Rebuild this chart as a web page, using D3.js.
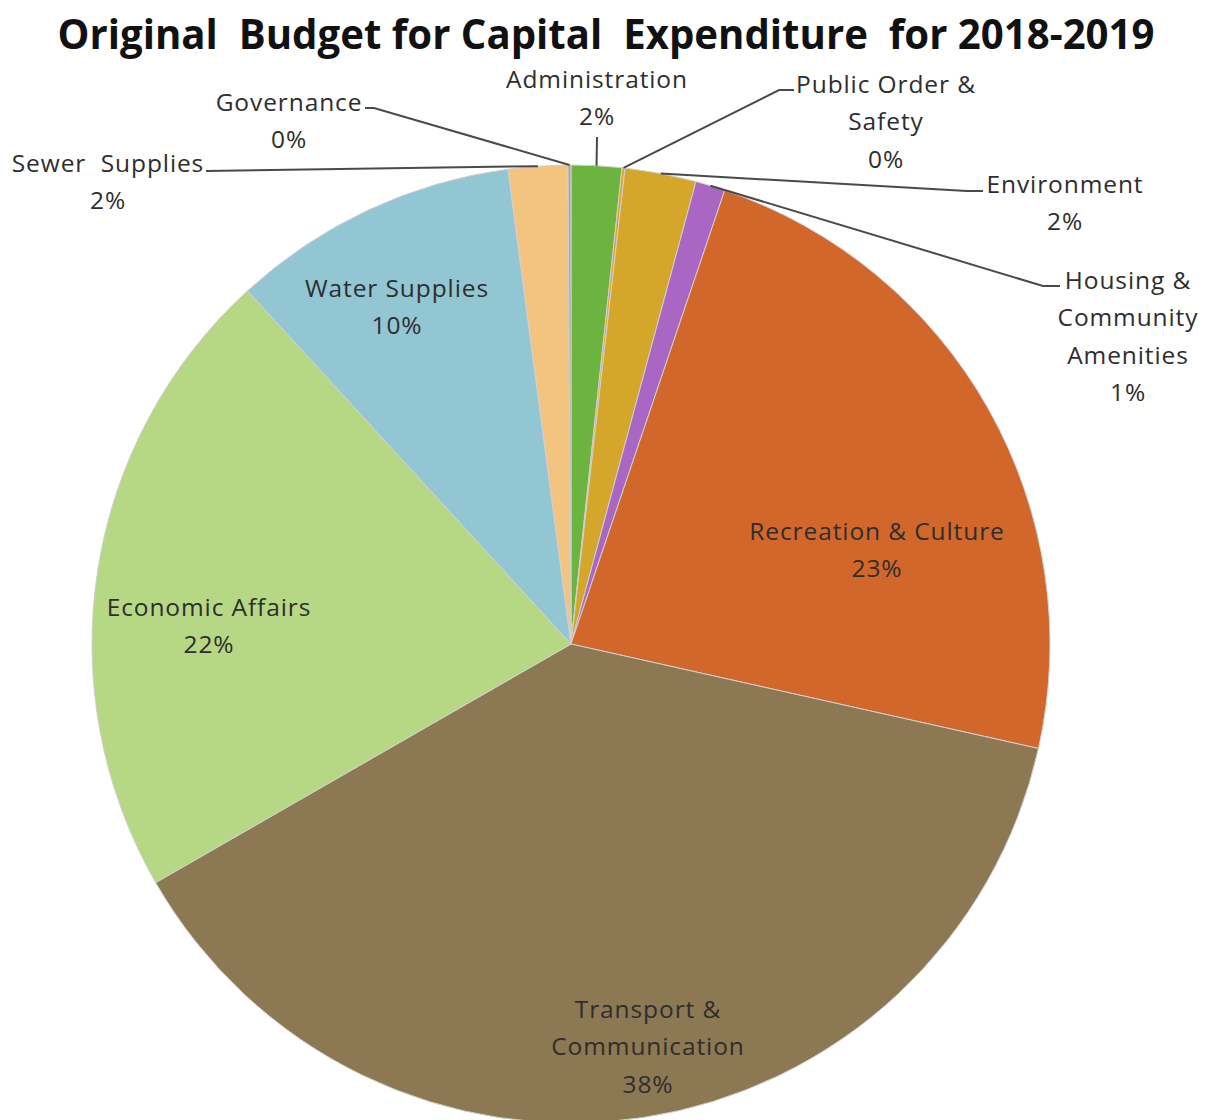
<!DOCTYPE html>
<html>
<head>
<meta charset="utf-8">
<script src="https://cdn.jsdelivr.net/npm/d3@7"></script>
<style>
  html, body { margin: 0; padding: 0; background: #ffffff; }
  svg { display: block; }
  text { font-family: "Open Sans", "Noto Sans", sans-serif; }
</style>
</head>
<body>
<svg id="chart" width="1208" height="1120"></svg>
<script>
// Budget categories, clockwise from 12 o'clock
const categories = [
  "Administration",
  "Public Order & Safety",
  "Environment",
  "Housing & Community Amenities",
  "Recreation & Culture",
  "Transport & Communication",
  "Economic Affairs",
  "Water Supplies",
  "Sewer Supplies",
  "Governance"
];

// Share of the capital budget (%)
const shares = [1.7, 0.1, 2.4, 1.0, 23.3, 38.2, 21.5, 9.7, 2.0, 0.1];

// Slice fills
const colors = [
  "#6db33f", "#e0a530", "#d4a62a", "#a966c2", "#d2672c",
  "#8c7852", "#b6d884", "#93c6d3", "#f3c47f", "#a7a7a7"
];

// Label text broken into lines (percentage line is appended)
const labelLines = [
  ["Administration"],
  ["Public Order &", "Safety"],
  ["Environment"],
  ["Housing &", "Community", "Amenities"],
  ["Recreation & Culture"],
  ["Transport &", "Communication"],
  ["Economic Affairs"],
  ["Water Supplies"],
  ["Sewer  Supplies"],
  ["Governance"]
];

const title = "Original  Budget for Capital  Expenditure  for 2018-2019";

// ---- layout ----
const W = 1208, H = 1120;
const cx = 571, cy = 644, R = 479;
const lineGap = 37.5;

// label block positions (centre x, centre y of first line)
const labelPos = {
  "Administration": [597, 78],
  "Public Order & Safety": [886, 83],
  "Environment": [1065, 183],
  "Housing & Community Amenities": [1128, 279],
  "Recreation & Culture": [877, 530],
  "Transport & Communication": [648, 1008],
  "Economic Affairs": [209, 606],
  "Water Supplies": [397, 287],
  "Sewer Supplies": [108, 162],
  "Governance": [289, 101]
};

// leader-line start points near each outside label (start, then elbow)
const leaderStart = {
  "Administration": [[597, 137]],
  "Public Order & Safety": [[794, 90], [779, 90]],
  "Environment": [[983, 191], [967, 191]],
  "Housing & Community Amenities": [[1060, 286], [1043, 286]],
  "Sewer Supplies": [[206, 171]],
  "Governance": [[365, 108], [374, 108]]
};

const svg = d3.select("#chart");

const data = categories.map((c, i) => ({ name: c, value: shares[i], color: colors[i], lines: labelLines[i] }));
const total = d3.sum(shares);

const pie = d3.pie().value(d => d.value).sort(null);
const arcs = pie(data);
const arc = d3.arc().innerRadius(0).outerRadius(R);
const rim = d3.arc().innerRadius(R).outerRadius(R);

const g = svg.append("g").attr("transform", `translate(${cx},${cy})`);

g.selectAll("path.slice")
  .data(arcs)
  .join("path")
  .attr("class", "slice")
  .attr("d", arc)
  .attr("fill", d => d.data.color)
  .attr("stroke", "#d0d0d0")
  .attr("stroke-width", 1);

// leader lines from outside labels to the slice rim
const line = d3.line();
arcs.forEach(a => {
  const st = leaderStart[a.data.name];
  if (!st) return;
  const [rx, ry] = rim.centroid(a);
  const pts = st.concat([[cx + rx, cy + ry]]);
  svg.append("path")
    .attr("d", line(pts))
    .attr("fill", "none")
    .attr("stroke", "#4a4a4a")
    .attr("stroke-width", 2);
});

// data labels
arcs.forEach(a => {
  const [x, y] = labelPos[a.data.name];
  const pct = Math.round(a.data.value / total * 100) + "%";
  const lines = a.data.lines.concat([pct]);
  const t = svg.append("text")
    .attr("x", x)
    .attr("text-anchor", "middle")
    .attr("font-size", 24.5)
    .attr("letter-spacing", 0.9)
    .attr("fill", "#2e2e2e");
  lines.forEach((s, k) => {
    t.append("tspan")
      .attr("x", x)
      .attr("y", y + k * lineGap)
      .attr("dominant-baseline", "central")
      .attr("xml:space", "preserve")
      .text(s);
  });
});

// title
svg.append("text")
  .attr("x", 606)
  .attr("y", 32)
  .attr("text-anchor", "middle")
  .attr("dominant-baseline", "central")
  .attr("font-size", 42)
  .attr("font-weight", 700)
  .attr("fill", "#111111")
  .attr("textLength", 1097)
  .attr("lengthAdjust", "spacingAndGlyphs")
  .style("white-space", "pre")
  .text(title);
</script>
</body>
</html>
